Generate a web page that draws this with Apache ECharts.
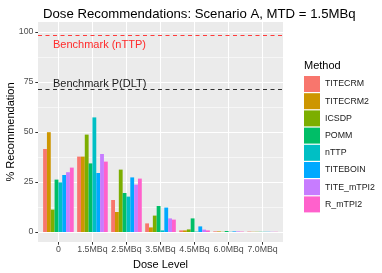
<!DOCTYPE html>
<html>
<head>
<meta charset="utf-8">
<script src="https://cdn.jsdelivr.net/npm/echarts@6/dist/echarts.min.js"></script>
<style>html,body{margin:0;padding:0;background:#fff}#c{width:382px;height:273px}</style>
</head>
<body>
<div id="c"></div>
<script>
const doseLevels = ['0', '1.5MBq', '2.5MBq', '3.5MBq', '4.5MBq', '6.0MBq', '7.0MBq'];
const methods = ['TITECRM', 'TITECRM2', 'ICSDP', 'POMM', 'nTTP', 'TITEBOIN', 'TITE_mTPI2', 'R_mTPI2'];
const colors = ['#F8766D', '#CD9600', '#7CAE00', '#00BE67', '#00BFC4', '#00A9FF', '#C77CFF', '#FF61CC'];
const TITECRM    = [41.5, 37.7, 16.0, 4.3, 0.8, 0.3, 0.2];
const TITECRM2   = [49.9, 37.7, 10.0, 2.3, 0.8, 0.3, 0.1];
const ICSDP      = [11.2, 48.7, 31.2, 8.2, 1.3, 0.1, 0.1];
const POMM       = [26.2, 34.3, 19.5, 13.0, 6.8, 0.5, 0.1];
const nTTP       = [24.8, 57.3, 17.7, 0.8, 0.2, 0.1, 0.1];
const TITEBOIN   = [28.5, 29.5, 27.3, 12.2, 2.8, 0.3, 0.1];
const TITE_mTPI2 = [29.9, 39.0, 23.7, 6.8, 1.2, 0.3, 0.1];
const R_mTPI2    = [32.2, 35.2, 26.7, 6.2, 0.8, 0.2, 0.1];
const seriesValues = [TITECRM, TITECRM2, ICSDP, POMM, nTTP, TITEBOIN, TITE_mTPI2, R_mTPI2];
const yMajor = [0, 25, 50, 75, 100];
const yMinor = [12.5, 37.5, 62.5, 87.5];
const benchmarkNTTP = 98.2;
const benchmarkDLT = 71.4;

const font = 'Liberation Sans, Arial, sans-serif';
const chart = echarts.init(document.getElementById('c'), null, {renderer: 'canvas'});
const xIdx = doseLevels.map((d, i) => i);
// panel geometry (ggplot-style discrete expansion of 0.6 on each side)
const panelLeft = 38, panelRight = 283, panelTop = 22, panelBottom = 242;
const band = (panelRight - panelLeft) / 7.2;
const inset = band * 0.1;

const series = methods.map((m, k) => ({
  name: m, type: 'bar', xAxisIndex: 1, yAxisIndex: 2,
  barWidth: '11.25%', barGap: '0%', itemStyle: {color: colors[k]},
  data: seriesValues[k], silent: true, animation: false
}));
function benchmarkSeries(value, text, lineColor, textColor, pos, dist) {
  return {
    type: 'line', xAxisIndex: 0, yAxisIndex: 0, data: [], silent: true, animation: false,
    markLine: {
      silent: true, symbol: 'none', animation: false,
      lineStyle: {color: lineColor, type: [4, 3.5], width: 1.1},
      label: {show: true, formatter: text, position: pos, distance: dist, color: textColor, fontSize: 11, fontFamily: font},
      data: [{yAxis: value}]
    }
  };
}
series.push(benchmarkSeries(benchmarkNTTP, 'Benchmark (nTTP)', '#FF3B3B', '#FF2A2A', 'insideStartBottom', [15, 4]));
series.push(benchmarkSeries(benchmarkDLT, 'Benchmark P(DLT)', '#333333', '#1A1A1A', 'insideStartTop', [15, 0]));

chart.setOption({
  animation: false,
  title: [
    {text: 'Dose Recommendations: Scenario A, MTD = 1.5MBq', left: 38, top: 3,
     textStyle: {fontSize: 13.2, fontWeight: 'normal', color: '#000', fontFamily: font}},
    {text: 'Method', left: 299, top: 55, textStyle: {fontSize: 11, fontWeight: 'normal', color: '#000', fontFamily: font}}
  ],
  legend: {orient: 'vertical', left: 299, top: 71, itemWidth: 16, itemHeight: 16, itemGap: 1.2, icon: 'rect',
    textStyle: {fontSize: 8.8, color: '#1A1A1A', fontFamily: font}, data: methods},
  grid: [
    {left: panelLeft, right: 382 - panelRight, top: panelTop, bottom: 273 - panelBottom, show: true, backgroundColor: '#EBEBEB', borderWidth: 0, containLabel: false, outerBoundsMode: 'none'},
    {left: panelLeft + inset, right: 382 - panelRight + inset, top: panelTop, bottom: 273 - panelBottom, containLabel: false, outerBoundsMode: 'none'}
  ],
  xAxis: [
    {gridIndex: 0, type: 'value', min: -0.6, max: 6.6, name: 'Dose Level', nameLocation: 'middle', nameGap: 11,
      nameTextStyle: {fontSize: 11, color: '#000', fontFamily: font},
      axisLine: {show: false, onZero: false},
      axisTick: {show: true, customValues: xIdx, length: 2.7, lineStyle: {color: '#333', width: 1}},
      axisLabel: {customValues: xIdx, formatter: v => doseLevels[Math.round(v)], margin: 3.5, fontSize: 8.8, color: '#4D4D4D', fontFamily: font},
      splitLine: {show: true, lineStyle: {color: '#FFFFFF', width: 1.07}}},
    {gridIndex: 1, type: 'category', data: doseLevels, show: false, axisLine: {onZero: false}}
  ],
  yAxis: [
    {gridIndex: 0, type: 'value', min: -5, max: 105, name: '% Recommendation', nameLocation: 'middle', nameGap: 22, nameRotate: 90,
      nameMoveOverlap: false,
      nameTextStyle: {fontSize: 11, color: '#000', fontFamily: font},
      axisLine: {show: false, onZero: false},
      axisTick: {show: true, customValues: yMajor, length: 2.7, lineStyle: {color: '#333', width: 1}},
      axisLabel: {customValues: yMajor, margin: 4.5, fontSize: 8.8, color: '#4D4D4D', fontFamily: font},
      splitLine: {show: true, lineStyle: {color: '#FFFFFF', width: 1.07}}},
    {gridIndex: 0, type: 'value', min: -5, max: 105, position: 'left', axisLine: {show: false, onZero: false},
      axisTick: {show: false, customValues: yMinor}, axisLabel: {show: false, customValues: yMinor},
      splitLine: {show: true, lineStyle: {color: '#FFFFFF', width: 0.55}}},
    {gridIndex: 1, type: 'value', min: -5, max: 105, show: false, axisLine: {onZero: false}, splitLine: {show: false}}
  ],
  series: series
});
</script>
</body>
</html>
